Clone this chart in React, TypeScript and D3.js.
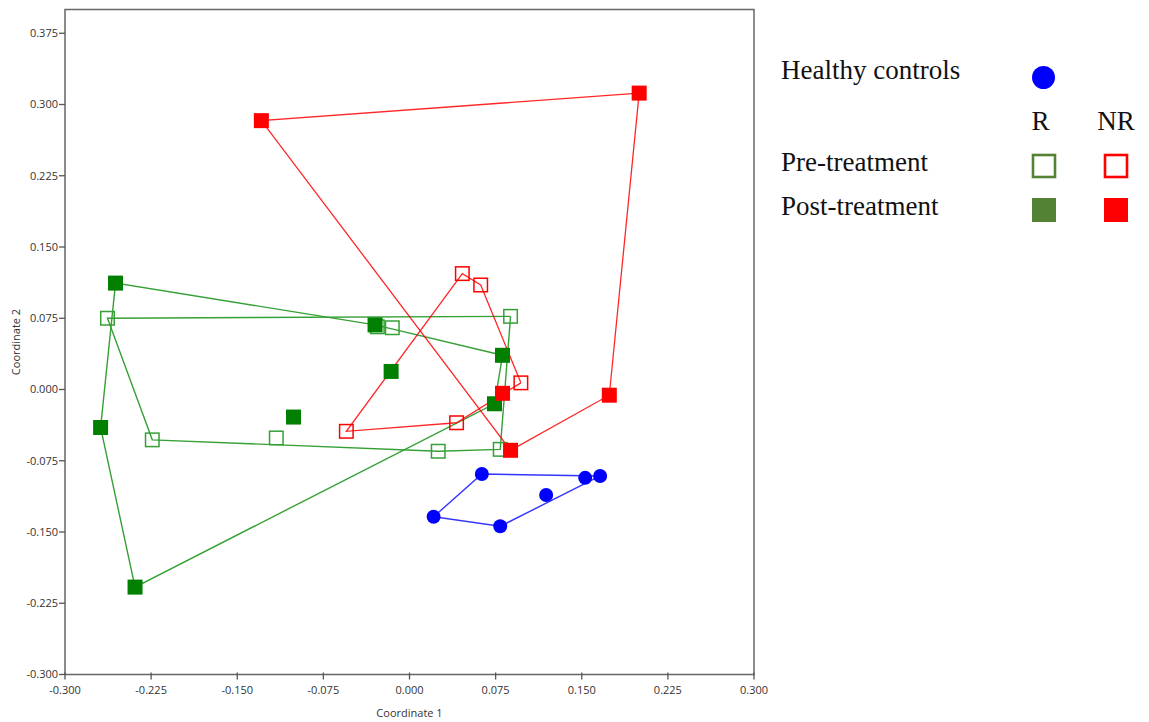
import * as d3 from 'd3';

// Group data: [coordinate 1, coordinate 2]
const healthy: [number, number][] = [
  [0.063, -0.089], [0.153, -0.093], [0.166, -0.091],
  [0.119, -0.111], [0.079, -0.144], [0.021, -0.134],
];
const rPre: [number, number][] = [
  [-0.263, 0.075], [0.088, 0.077], [0.079, -0.063], [0.025, -0.065],
  [-0.116, -0.051], [-0.224, -0.053], [-0.028, 0.066], [-0.015, 0.065],
];
const rPost: [number, number][] = [
  [-0.256, 0.112], [-0.030, 0.068], [0.081, 0.036], [-0.016, 0.019],
  [-0.101, -0.029], [0.074, -0.015], [-0.269, -0.040], [-0.239, -0.208],
];
const nrPre: [number, number][] = [
  [0.046, 0.122], [0.062, 0.110], [0.097, 0.007], [0.041, -0.035], [-0.055, -0.044],
];
const nrPost: [number, number][] = [
  [-0.129, 0.283], [0.200, 0.312], [0.174, -0.006], [0.088, -0.064], [0.081, -0.004],
];

const xTicks = [-0.3, -0.225, -0.15, -0.075, 0, 0.075, 0.15, 0.225, 0.3];
const yTicks = [-0.3, -0.225, -0.15, -0.075, 0, 0.075, 0.15, 0.225, 0.3, 0.375];

const GREEN = '#007f00';
const GREEN_LINE = '#35a035';
const RED = '#ff0000';
const BLUE = '#0000ff';
const LEGEND_GREEN = '#548235';

const W = 1149;
const H = 722;
const left = 65;
const right = 754;
const top = 9.5;
const bottom = 674.5;

const x = d3.scaleLinear().domain([-0.3, 0.3]).range([left, right]);
const y = d3.scaleLinear().domain([-0.3, 0.4]).range([bottom, top]);

const hullPath = (pts: [number, number][]) => {
  const hull = d3.polygonHull(pts.map(([a, b]) => [x(a), y(b)] as [number, number]));
  return hull ? d3.line()(hull.concat([hull[0]])) ?? '' : '';
};

const axisFont = "'Open Sans', 'DejaVu Sans', sans-serif";
const legendFont = "'Liberation Serif', 'Times New Roman', serif";

function Squares({ pts, color, filled }: { pts: [number, number][]; color: string; filled: boolean }) {
  const s = 15;
  return (
    <g>
      {pts.map(([a, b], i) =>
        filled ? (
          <rect key={i} x={x(a) - s / 2} y={y(b) - s / 2} width={s} height={s} fill={color} />
        ) : (
          <rect key={i} x={x(a) - s / 2 + 0.75} y={y(b) - s / 2 + 0.75} width={s - 1.5} height={s - 1.5}
            fill="none" stroke={color} strokeWidth={1.5} />
        )
      )}
    </g>
  );
}

export default function App() {
  return (
    <svg width={W} height={H} style={{ position: 'absolute', left: 0, top: 0, background: '#fff' }}>
      {/* plot frame */}
      <rect x={left} y={top} width={right - left} height={bottom - top} fill="none" stroke="#666" strokeWidth={1.5} />

      {/* y axis ticks */}
      {yTicks.map((t) => (
        <g key={'y' + t} transform={`translate(${left},${y(t)})`}>
          <line x1={-6} x2={0} stroke="#555" strokeWidth={1.3} />
          <text x={-7} dy="0.35em" textAnchor="end" fontSize={11} fill="#333" fontFamily={axisFont}>
            {t.toFixed(3)}
          </text>
        </g>
      ))}
      {/* x axis ticks */}
      {xTicks.map((t) => (
        <g key={'x' + t} transform={`translate(${x(t)},${bottom})`}>
          <line y1={-2} y2={5} stroke="#555" strokeWidth={1.3} />
          <text y={19} textAnchor="middle" fontSize={11} fill="#333" fontFamily={axisFont}>
            {t.toFixed(3)}
          </text>
        </g>
      ))}
      <text x={(left + right) / 2} y={717} textAnchor="middle" fontSize={11} fill="#333" fontFamily={axisFont}>
        Coordinate 1
      </text>
      <text transform={`translate(20,${(top + bottom) / 2}) rotate(-90)`} textAnchor="middle" fontSize={11}
        fill="#333" fontFamily={axisFont}>
        Coordinate 2
      </text>

      {/* hulls */}
      <path d={hullPath(rPre)} fill="none" stroke={GREEN_LINE} strokeWidth={1.4} />
      <path d={hullPath(rPost)} fill="none" stroke={GREEN_LINE} strokeWidth={1.4} />
      <path d={hullPath(nrPre)} fill="none" stroke={RED} strokeWidth={1.3} opacity={0.85} />
      <path d={hullPath(nrPost)} fill="none" stroke={RED} strokeWidth={1.3} opacity={0.85} />
      <path d={hullPath(healthy)} fill="none" stroke={BLUE} strokeWidth={1.4} opacity={0.8} />

      {/* markers */}
      <Squares pts={rPre} color={GREEN_LINE} filled={false} />
      <Squares pts={nrPre} color={RED} filled={false} />
      <Squares pts={rPost} color={GREEN} filled />
      <Squares pts={nrPost} color={RED} filled />
      {healthy.map(([a, b], i) => (
        <circle key={i} cx={x(a)} cy={y(b)} r={7} fill={BLUE} />
      ))}

      {/* legend */}
      <g fontFamily={legendFont} fontSize={27} fill="#111">
        <text x={781} y={79}>Healthy controls</text>
        <text x={1040.5} y={130} textAnchor="middle">R</text>
        <text x={1116} y={130} textAnchor="middle">NR</text>
        <text x={781} y={171}>Pre-treatment</text>
        <text x={781} y={215}>Post-treatment</text>
      </g>
      <circle cx={1043.5} cy={77.5} r={11.5} fill={BLUE} />
      <rect x={1033} y={155} width={22} height={22} fill="none" stroke={LEGEND_GREEN} strokeWidth={2.6} />
      <rect x={1105} y={155} width={22} height={22} fill="none" stroke={RED} strokeWidth={2.6} />
      <rect x={1032} y={198} width={24} height={24} fill={LEGEND_GREEN} />
      <rect x={1104} y={198} width={24} height={24} fill={RED} />
    </svg>
  );
}
